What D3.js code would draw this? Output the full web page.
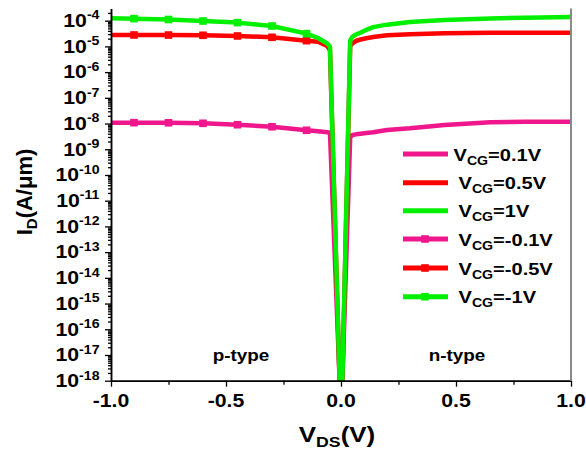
<!DOCTYPE html>
<html><head><meta charset="utf-8">
<script src="https://cdn.jsdelivr.net/npm/d3@7"></script>
<style>body{margin:0;background:#fff}svg{display:block}text{font-family:Arial,"Liberation Sans",sans-serif;font-weight:bold;fill:#000}</style>
</head><body>
<script>
// ---- data ----
const vdsN = [-1.0, -0.9, -0.75, -0.6, -0.45, -0.3, -0.15, -0.1, -0.06, -0.048, -0.006];
const idN01 = [1.08e-8, 1.08e-8, 1.07e-8, 1.02e-8, 9.0e-9, 7.5e-9, 5.46e-9, 5.0e-9, 4.6e-9, 4.4e-9, 1e-18];
const idN05 = [2.78e-5, 2.78e-5, 2.76e-5, 2.7e-5, 2.54e-5, 2.26e-5, 1.67e-5, 1.53e-5, 1.04e-5, 7.2e-6, 1e-18];
const idN10 = [1.24e-4, 1.2e-4, 1.11e-4, 9.7e-5, 8.4e-5, 6.2e-5, 3.12e-5, 2.12e-5, 1.3e-5, 9.8e-6, 1e-18];
const markerVds = [-0.9, -0.75, -0.6, -0.45, -0.3, -0.15];

const vdsP = [0.006, 0.04, 0.05, 0.065, 0.085, 0.11, 0.14, 0.2, 0.3, 0.45, 0.65, 0.8, 1.0];
const idP01 = [1e-18, 3.0e-9, 3.58e-9, 3.8e-9, 4.0e-9, 4.3e-9, 4.6e-9, 5.6e-9, 6.5e-9, 8.8e-9, 1.12e-8, 1.17e-8, 1.18e-8];
const idP05 = [1e-18, 1.04e-5, 1.3e-5, 1.62e-5, 1.86e-5, 2.07e-5, 2.32e-5, 2.7e-5, 2.96e-5, 3.23e-5, 3.41e-5, 3.41e-5, 3.41e-5];
const idP10 = [1e-18, 1.7e-5, 2.4e-5, 2.9e-5, 3.4e-5, 4.4e-5, 5.6e-5, 7.0e-5, 8.9e-5, 1.06e-4, 1.22e-4, 1.3e-4, 1.38e-4];

const legendValues = ["0.1", "0.5", "1", "-0.1", "-0.5", "-1"];
const xTicks = [-1.0, -0.5, 0.0, 0.5, 1.0];
const xMinorTicks = [-0.75, -0.25, 0.25, 0.75];
const yExponents = [-4,-5,-6,-7,-8,-9,-10,-11,-12,-13,-14,-15,-16,-17,-18];

const cMag = "#f0168c", cRed = "#ff0000", cGrn = "#00f000";

// ---- layout ----
const W = 586, H = 450;
const SX = 1.18; // horizontal text stretch of the original
const x = d3.scaleLinear().domain([-1, 1]).range([111, 571]);
const y = d3.scaleLog().domain([1e-18, 3e-4]).range([380.7, 8.4]);

const svg = d3.select("body").append("svg").attr("width", W).attr("height", H);

function stext(px, py, anchor, size, parts) {
  const g = svg.append("g").attr("transform", `translate(${px},${py}) scale(${SX},1)`);
  const t = g.append("text").attr("text-anchor", anchor).attr("font-size", size);
  parts.forEach(p => {
    const ts = t.append("tspan").text(p.t);
    if (p.s) ts.attr("font-size", p.s);
    if (p.dy) ts.attr("dy", p.dy);
  });
  return t;
}

// ---- series ----
const line = d3.line().x(d => x(d[0])).y(d => y(d[1]));
const series = [
  {v: vdsP, d: idP01, c: cMag, m: false},
  {v: vdsN, d: idN01, c: cMag, m: true},
  {v: vdsP, d: idP05, c: cRed, m: false},
  {v: vdsN, d: idN05, c: cRed, m: true},
  {v: vdsP, d: idP10, c: cGrn, m: false},
  {v: vdsN, d: idN10, c: cGrn, m: true},
];
series.forEach(s => {
  const pts = s.v.map((v, i) => [v, s.d[i]]);
  svg.append("path").attr("d", line(pts)).attr("fill", "none")
    .attr("stroke", s.c).attr("stroke-width", 4.5).attr("stroke-linejoin", "round");
  if (s.m) {
    pts.filter(p => markerVds.includes(p[0])).forEach(p => {
      svg.append("rect").attr("x", x(p[0]) - 3.8).attr("y", y(p[1]) - 3.8)
        .attr("width", 7.6).attr("height", 7.6).attr("fill", s.c);
    });
  }
});

// ---- axes ----
const minorY = [];
for (let e = -18; e <= -4; e++) for (let k = 2; k <= 9; k++) { const v = k * Math.pow(10, e); if (v <= 3e-4) minorY.push(v); }
const yMajor = yExponents.map(e => Math.pow(10, e));

const gy = svg.append("g").attr("transform", "translate(111,0)");
gy.call(d3.axisLeft(y).tickValues(yMajor).tickFormat("").tickSize(6).tickSizeOuter(0));
gy.append("g").call(d3.axisLeft(y).tickValues(minorY).tickFormat("").tickSize(3).tickSizeOuter(0));
gy.selectAll("path").attr("stroke", "#000").attr("stroke-width", 1.5);
gy.selectAll("line").attr("stroke", "#000").attr("stroke-width", 1.3);

const gx = svg.append("g").attr("transform", "translate(0,380.7)");
gx.call(d3.axisBottom(x).tickValues(xTicks).tickFormat("").tickSize(6).tickSizeOuter(0));
gx.append("g").call(d3.axisBottom(x).tickValues(xMinorTicks).tickFormat("").tickSize(4).tickSizeOuter(0));
gx.selectAll("path").attr("stroke", "#000").attr("stroke-width", 1.5);
gx.selectAll("line").attr("stroke", "#000").attr("stroke-width", 1.3);

svg.append("line").attr("x1", x(1)).attr("x2", x(1)).attr("y1", y(3e-4)).attr("y2", y(1e-18))
  .attr("stroke", "#8a8a8a").attr("stroke-width", 2);

// y tick labels
yExponents.forEach(e => {
  stext(99.5, y(Math.pow(10, e)) + 6.3, "end", 18, [{t: "10"}, {t: String(e), s: 12, dy: -7.5}]);
});
// x tick labels
xTicks.forEach(v => stext(x(v), 406.5, "middle", 18, [{t: v.toFixed(1)}]));

// axis titles
stext(337, 442, "middle", 22, [{t: "V"}, {t: "DS", s: 15, dy: 5}, {t: "(V)", dy: -5}]);
{
  const t = svg.append("text").attr("transform", "translate(32,192) rotate(-90)")
    .attr("text-anchor", "middle").attr("font-size", 22);
  t.append("tspan").text("I");
  t.append("tspan").text("D").attr("font-size", 15).attr("dy", 5);
  t.append("tspan").text("(A/μm)").attr("dy", -5);
}

// region labels
stext(241, 361, "middle", 16, [{t: "p-type"}]);
stext(457, 361, "middle", 16, [{t: "n-type"}]);

// legend
const legRows = [154, 182.7, 210.7, 239, 268, 296.7];
const legColors = [cMag, cRed, cGrn, cMag, cRed, cGrn];
legendValues.forEach((v, i) => {
  const yy = legRows[i];
  svg.append("line").attr("x1", 403).attr("x2", 448).attr("y1", yy).attr("y2", yy)
    .attr("stroke", legColors[i]).attr("stroke-width", 5);
  if (i >= 3) svg.append("rect").attr("x", 425 - 3.8).attr("y", yy - 3.8).attr("width", 7.6).attr("height", 7.6).attr("fill", legColors[i]);
  stext(i === 0 ? 453.5 : 458.5, yy + 6.5, "start", 17,
    [{t: "V"}, {t: "CG", s: 12, dy: 4}, {t: "=" + v + "V", dy: -4}]);
});
</script>
</body></html>
